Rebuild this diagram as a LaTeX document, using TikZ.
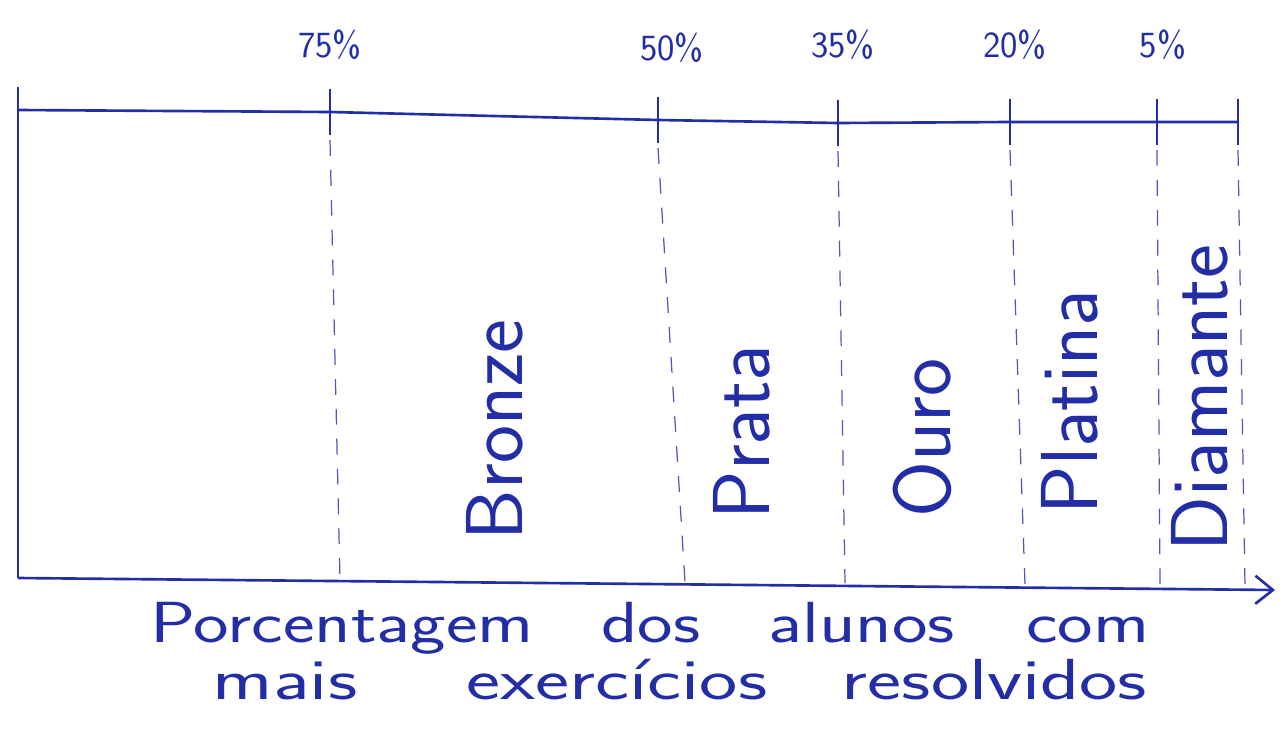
\documentclass[tikz,border=0pt]{standalone}
\usepackage{graphicx}
\usepackage{tikz}
\usetikzlibrary{arrows.meta}
\definecolor{penblue}{RGB}{35,45,165}

\begin{document}
\begin{tikzpicture}[x=0.02cm, y=-0.02cm,
  axis/.style={penblue, line width=1.5pt},
  tick/.style={penblue, line width=1.5pt},
  guide/.style={penblue!80, line width=0.7pt, dash pattern=on 9pt off 8pt},
  pct/.style={penblue, font=\sffamily\fontsize{21}{24}\selectfont},
  tier/.style={penblue, rotate=90, font=\sffamily\fontsize{46}{50}\selectfont},
  capt/.style={penblue, font=\sffamily\fontsize{33}{38}\selectfont, inner sep=0pt},
]
  \useasboundingbox (0,0) rectangle (1280,737);
  % points on the top scale and at the bottom axis
  \foreach \n/\x/\y in {a/18/110, b/330/112, c/658/120, d/838/123,
                        e/1010/122, f/1157/122, g/1238/122}{
    \coordinate (t\n) at (\x,\y);
  }
  \foreach \n/\x/\y in {a/18/578, b/340/580, c/685/582, d/845/583,
                        e/1025/585, f/1160/586, g/1245/587}{
    \coordinate (b\n) at (\x,\y);
  }
  \coordinate (arr) at (1275,590);
  \draw[axis] (ta) -- (tb) -- (tc) -- (td) -- (te) -- (tf) -- (tg);
  \foreach \n in {a,b,c,d,e,f,g}{
    \draw[tick] ([yshift=13pt]t\n) -- ([yshift=-13pt]t\n);
  }
  \foreach \n in {b,c,d,e,f,g}{
    \draw[guide] ([yshift=-16pt]t\n) -- (b\n);
  }
  \draw[axis] (ta) -- (ba);
  \draw[axis, -{Straight Barb[length=10pt,width=16pt]}] (ba) -- (arr);
  % percent labels
  \node[pct] (l75) at (330,45) {75\%};
  \node[pct] (l50) at (672,48) {50\%};
  \node[pct] (l35) at (843,45) {35\%};
  \node[pct] (l20) at (1015,45) {20\%};
  \node[pct] (l05) at (1163,45) {5\%};
  % tiers
  \node[tier] (bronze) at (495,430) {Bronze};
  \node[tier] (prata) at (742,432) {Prata};
  \node[tier] (ouro) at (922,438) {Ouro};
  \node[tier] (platina) at (1070,402) {Platina};
  \node[tier] (diamante) at (1200,398) {Diamante};
  \node[capt] (cap1) at (650,628) {\scalebox{1.3}[1]{%
    Porcentagem\hspace{0.9em}dos\hspace{0.9em}alunos\hspace{0.95em}com}};
  \node[capt] (cap2) at (680,680) {\scalebox{1.4}[1]{%
    mais\hspace{1.35em}exercícios\hspace{0.92em}resolvidos}};
\end{tikzpicture}
\end{document}
